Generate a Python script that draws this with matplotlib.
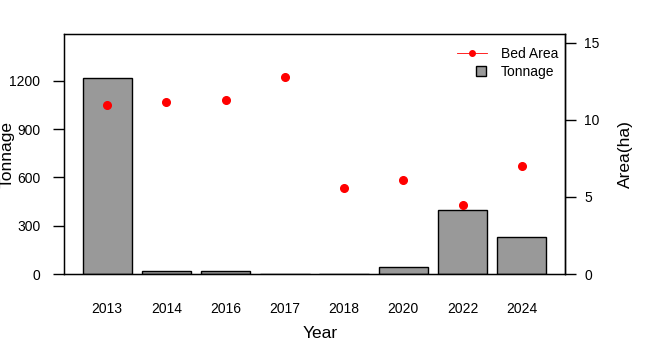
import matplotlib
matplotlib.use("Agg")
import matplotlib.pyplot as plt
import numpy as np
from matplotlib.lines import Line2D
from matplotlib.patches import Patch, Rectangle
from matplotlib.legend_handler import HandlerBase

years = ["2013", "2014", "2016", "2017", "2018", "2020", "2022", "2024"]
tonnage = [1220, 17, 17, 0, 0, 43, 398, 233]
bed_area = [11.0, 11.17, 11.3, 12.8, 5.56, 6.08, 4.48, 7.03]

plt.rcParams['font.family'] = ['Liberation Sans', 'DejaVu Sans']


class SquareHandler(HandlerBase):
    def create_artists(self, legend, orig_handle, xdescent, ydescent, width, height, fontsize, trans):
        s = 10 * 72 / 100.0  # ~10 px square
        r = Rectangle((width - s - 0.5 - xdescent, height / 2 - s / 2 - ydescent), s, s,
                      facecolor="#999999", edgecolor="black", linewidth=1, transform=trans)
        return [r]


fig = plt.figure(figsize=(6.5, 3.58), dpi=100)
ax = fig.add_axes([64/650, 1-274/358, (565-64)/650, (274-34)/358])
x = np.arange(len(years))
ax.bar(x, tonnage, width=1/1.2, color="#999999", edgecolor="black", linewidth=1, zorder=2)
ax.set_xlim(-0.73, 7.73)
ax.set_ylim(0, 1492)
ax.set_yticks([0, 300, 600, 900, 1200])
ax.set_xticks(x)
ax.set_xticklabels(years, fontsize=10)
ax.tick_params(axis='x', length=0, pad=20.5)
ax.tick_params(axis='y', length=8, width=1, pad=9, labelsize=10, direction='out')
for s in ax.spines.values():
    s.set_linewidth(1)

ax2 = ax.twinx()
ax2.set_ylim(0, 15.58)
ax2.set_yticks([0, 5, 10, 15])
ax2.tick_params(axis='y', length=8, width=1, pad=6, labelsize=10, direction='out')
ax2.plot(x, bed_area, 'o', color='red', markersize=5.5, zorder=3)
ax2.spines['right'].set_linewidth(1)

fig.text(320/650, 1-333/358, "Year", fontsize=12.5, ha='center', va='center')
fig.text(7.5/650, 1-154/358, "Tonnage", fontsize=12.5, ha='center', va='center', rotation=90)
fig.text(625/650, 1-154/358, "Area(ha)", fontsize=12.5, ha='center', va='center', rotation=90)

line_handle = Line2D([0], [0], color='red', lw=0.6, marker='o', markersize=4)
sq_handle = Patch(facecolor="#999999", edgecolor="black", linewidth=1)
leg = ax2.legend([line_handle, sq_handle], ["Bed Area", "Tonnage"], loc='upper right',
                 bbox_to_anchor=(564/650, 1-41/358), bbox_transform=fig.transFigure,
                 frameon=False, fontsize=10, markerfirst=True, handlelength=2.2,
                 handleheight=0.7, labelspacing=0.3, borderaxespad=0, handletextpad=1.0,
                 handler_map={Patch: SquareHandler()})
for t in leg.get_texts():
    t.set_ha('right')

fig.savefig("out.png", dpi=100)
